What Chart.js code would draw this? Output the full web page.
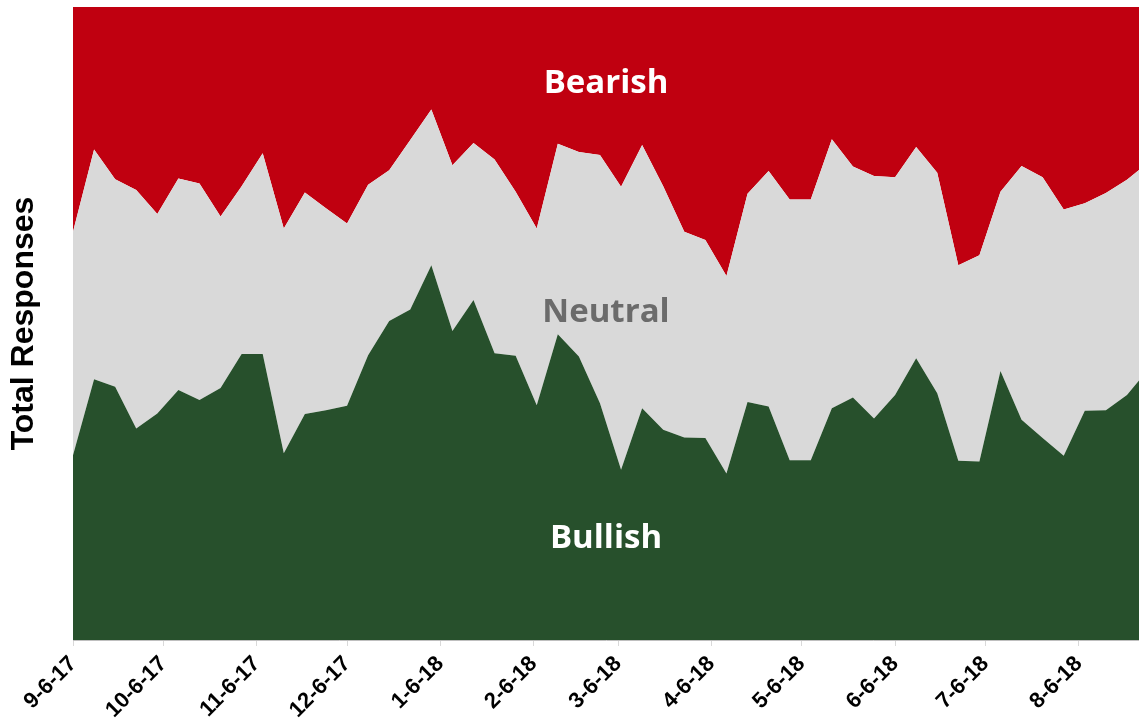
<!DOCTYPE html>
<html>
<head>
<meta charset="utf-8">
<script src="https://cdn.jsdelivr.net/npm/chart.js@4.4.0/dist/chart.umd.min.js"></script>
<style>
  html, body { margin: 0; padding: 0; background: #fff; }
  #wrap { width: 1139px; height: 724px; }
</style>
</head>
<body>
<div id="wrap"><canvas id="sentiment"></canvas></div>
<script>
// weekly survey, first week 9-6-17 (day 0)
const weekCount = 52;
const bullish = [29.2, 41.2, 40.0, 33.4, 35.8, 39.5, 37.9, 39.8, 45.2, 45.2,
  29.5, 35.7, 36.3, 37.0, 45.0, 50.4, 52.2, 59.2, 48.8, 53.7,
  45.3, 44.9, 37.1, 48.3, 44.8, 37.4, 26.9, 36.6, 33.2, 32.0,
  31.9, 26.3, 37.6, 36.9, 28.4, 28.4, 36.6, 38.3, 35.0, 38.7,
  44.5, 39.0, 28.3, 28.2, 42.5, 34.8, 31.9, 29.1, 36.2, 36.3,
  38.7, 42.7];
const neutral = [35.3, 36.3, 32.8, 37.7, 31.5, 33.4, 34.2, 27.1, 26.5, 31.7,
  35.5, 35.0, 31.9, 28.8, 26.9, 23.8, 26.8, 24.6, 26.2, 24.8,
  30.6, 25.9, 27.9, 30.1, 32.3, 39.2, 44.7, 41.6, 38.5, 32.5,
  31.3, 31.2, 32.9, 37.2, 41.2, 41.2, 42.5, 36.5, 38.3, 34.4,
  33.4, 34.8, 30.9, 32.6, 28.3, 40.1, 41.2, 38.9, 32.8, 34.3,
  34.0, 32.7];
const bearish = [35.5, 22.5, 27.2, 28.9, 32.7, 27.1, 27.9, 33.1, 28.3, 23.1,
  35.0, 29.3, 31.8, 34.2, 28.1, 25.8, 21.0, 16.2, 25.0, 21.5,
  24.1, 29.2, 35.0, 21.6, 22.9, 23.4, 28.4, 21.8, 28.3, 35.5,
  36.8, 42.5, 29.5, 25.9, 30.4, 30.4, 20.9, 25.2, 26.7, 26.9,
  22.1, 26.2, 40.8, 39.2, 29.2, 25.1, 26.9, 32.0, 31.0, 29.4,
  27.3, 24.6];

// month ticks, in days after 9-6-17
const tickDays = [0, 30, 61, 91, 122, 153, 181, 212, 242, 273, 303, 334];
const tickLabels = ["9-6-17", "10-6-17", "11-6-17", "12-6-17", "1-6-18", "2-6-18",
  "3-6-18", "4-6-18", "5-6-18", "6-6-18", "7-6-18", "8-6-18"];
const lastDay = 354;

const days = [];
for (let i = 0; i < weekCount; i++) days.push(i * 7);
const toPoints = (arr) => arr.map((v, i) => ({ x: days[i], y: v }));

// band names written inside the areas
const bandLabels = [
  { text: "Bearish", pct: 87.9, color: "#ffffff" },
  { text: "Neutral", pct: 51.7, color: "#6b6b6b" },
  { text: "Bullish", pct: 16.0, color: "#ffffff" },
];

const bandLabelPlugin = {
  id: "bandLabels",
  afterDatasetsDraw(chart) {
    const { ctx, chartArea, scales } = chart;
    const cx = (chartArea.left + chartArea.right) / 2;
    ctx.save();
    ctx.font = "bold 33px 'Open Sans', sans-serif";
    ctx.textAlign = "center";
    ctx.textBaseline = "middle";
    bandLabels.forEach((b) => {
      ctx.fillStyle = b.color;
      ctx.fillText(b.text, cx, scales.y.getPixelForValue(b.pct));
    });
    ctx.restore();
  },
};

const ctx = document.getElementById("sentiment").getContext("2d");
new Chart(ctx, {
  type: "line",
  data: {
    datasets: [
      {
        label: "Bullish",
        data: toPoints(bullish),
        backgroundColor: "#27502c",
        borderWidth: 0,
        pointRadius: 0,
        fill: "origin",
      },
      {
        label: "Neutral",
        data: toPoints(neutral),
        backgroundColor: "#d9d9d9",
        borderWidth: 0,
        pointRadius: 0,
        fill: "-1",
      },
      {
        label: "Bearish",
        data: toPoints(bearish),
        backgroundColor: "#c00010",
        borderWidth: 0,
        pointRadius: 0,
        fill: "-1",
      },
    ],
  },
  options: {
    responsive: true,
    maintainAspectRatio: false,
    animation: false,
    layout: { padding: { top: 7, right: 0, left: 0, bottom: 0 } },
    plugins: {
      legend: { display: false },
      tooltip: { enabled: false },
    },
    elements: { line: { tension: 0 } },
    scales: {
      x: {
        type: "linear",
        min: 0,
        max: lastDay,
        afterBuildTicks: (scale) => {
          scale.ticks = tickDays.map((d) => ({ value: d }));
        },
        afterFit: (scale) => {
          scale.height = 84;
        },
        ticks: {
          autoSkip: false,
          maxRotation: 45,
          minRotation: 45,
          color: "#000",
          padding: 5,
          font: { family: "'Liberation Sans', Arial, sans-serif", size: 22, weight: "bold" },
          callback: (value) => {
            const i = tickDays.indexOf(value);
            return i >= 0 ? tickLabels[i] : "";
          },
        },
        grid: {
          drawOnChartArea: false,
          drawTicks: true,
          tickLength: 6,
          color: "#d9d9d9",
        },
        border: { display: true, color: "#bfbfbf", width: 1 },
      },
      y: {
        stacked: true,
        min: 0,
        max: 100,
        afterFit: (scale) => {
          scale.width = 73;
        },
        ticks: { display: false },
        grid: { display: false },
        border: { display: false },
        title: {
          display: true,
          text: "Total Responses",
          color: "#000",
          padding: { top: 5, bottom: 0 },
          font: { family: "'Liberation Sans', Arial, sans-serif", size: 32, weight: "bold" },
        },
      },
    },
  },
  plugins: [bandLabelPlugin],
});
</script>
</body>
</html>
